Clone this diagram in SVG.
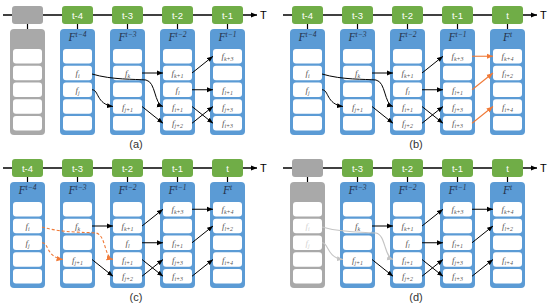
<svg xmlns="http://www.w3.org/2000/svg" width="550" height="306" viewBox="0 0 550 306">
<style>
.tl{stroke:#000;stroke-width:1.3}
.tab{fill:#70AD47}
.tabg{fill:#A6A6A6}
.pnl{fill:#5B9BD5}
.pnlg{fill:#A9A9A9}
.cell{fill:#fff}
.stem{stroke:#000;stroke-width:1.2}
.tt{font-family:"Liberation Sans",Arial,sans-serif;font-size:9.5px;fill:#fff;text-anchor:middle}
.tT{font-family:"Liberation Sans",Arial,sans-serif;font-size:11px;fill:#000}
.hdr{font-family:"Liberation Serif","Times New Roman",serif;font-style:italic;font-size:11.5px;fill:#25324a;text-anchor:middle}
.sup{font-size:7.5px}
.lbl{font-family:"Liberation Serif","Times New Roman",serif;font-style:italic;font-size:9px;fill:#555;text-anchor:middle}
.sub{font-size:6px}
.lg{fill:#d2d2d2}
.ar{fill:none;stroke:#000;stroke-width:1;marker-end:url(#ah)}
.ao{fill:none;stroke:#F07A38;stroke-width:1.1;marker-end:url(#ao)}
.ad{stroke-dasharray:3 2}
.ag{fill:none;stroke:#C4C4C4;stroke-width:1.1;marker-end:url(#ag)}
.cap{font-family:"Liberation Sans",Arial,sans-serif;font-size:11px;fill:#333;text-anchor:middle}
</style>
<defs>
<marker id="ah" viewBox="0 0 10 10" refX="10" refY="5" markerWidth="6" markerHeight="6" markerUnits="userSpaceOnUse" orient="auto"><path d="M0,1 L10,5 L0,9 z" fill="#000"/></marker>
<marker id="ao" viewBox="0 0 10 10" refX="10" refY="5" markerWidth="6.5" markerHeight="6.5" markerUnits="userSpaceOnUse" orient="auto"><path d="M0,1 L10,5 L0,9 z" fill="#F07A38"/></marker>
<marker id="ag" viewBox="0 0 10 10" refX="10" refY="5" markerWidth="6" markerHeight="6" markerUnits="userSpaceOnUse" orient="auto"><path d="M0,1 L10,5 L0,9 z" fill="#C4C4C4"/></marker>
<marker id="tla" viewBox="0 0 10 10" refX="10" refY="5" markerWidth="6" markerHeight="6" markerUnits="userSpaceOnUse" orient="auto"><path d="M0,1 L10,5 L0,9 z" fill="#000"/></marker>
<g id="cells">
<rect class="cell" x="0" y="49" width="29" height="14.5" rx="3"/>
<rect class="cell" x="0" y="65.75" width="29" height="14.5" rx="3"/>
<rect class="cell" x="0" y="82.5" width="29" height="14.5" rx="3"/>
<rect class="cell" x="0" y="99.25" width="29" height="14.5" rx="3"/>
<rect class="cell" x="0" y="116" width="29" height="14.5" rx="3"/>
</g>
</defs>
<rect width="550" height="306" fill="#fff"/>

<!-- Panel (a) -->
<g id="panel-a">
<line class="tl" x1="3" y1="15" x2="257" y2="15" marker-end="url(#tla)"/>
<text class="tT" x="260" y="19">T</text>
<g id="a-blank"><rect class="tabg" x="12" y="6" width="31" height="18" rx="3"/><line class="stem" x1="27.5" y1="24" x2="27.5" y2="29"/><rect class="pnlg" x="10" y="29" width="35" height="106" rx="4"/><use href="#cells" x="13"/></g>
<g id="a-t4"><rect class="tab" x="62" y="6" width="31" height="18" rx="3"/><text class="tt" x="77.5" y="18.5">t-4</text><line class="stem" x1="77.5" y1="24" x2="77.5" y2="29"/><rect class="pnl" x="60" y="29" width="35" height="106" rx="4"/><use href="#cells" x="63"/>
<text class="hdr" x="77.5" y="41">F<tspan class="sup" dy="-4">t−4</tspan></text>
<text class="lbl" x="77.5" y="76">f<tspan class="sub" dy="2">i</tspan></text>
<text class="lbl" x="77.5" y="92.75">f<tspan class="sub" dy="2">j</tspan></text></g>
<g id="a-t3"><rect class="tab" x="112" y="6" width="31" height="18" rx="3"/><text class="tt" x="127.5" y="18.5">t-3</text><line class="stem" x1="127.5" y1="24" x2="127.5" y2="29"/><rect class="pnl" x="110" y="29" width="35" height="106" rx="4"/><use href="#cells" x="113"/>
<text class="hdr" x="127.5" y="41">F<tspan class="sup" dy="-4">t−3</tspan></text>
<text class="lbl" x="127.5" y="76">f<tspan class="sub" dy="2">k</tspan></text>
<text class="lbl" x="127.5" y="109.5">f<tspan class="sub" dy="2">j+1</tspan></text></g>
<g id="a-t2"><rect class="tab" x="162" y="6" width="31" height="18" rx="3"/><text class="tt" x="177.5" y="18.5">t-2</text><line class="stem" x1="177.5" y1="24" x2="177.5" y2="29"/><rect class="pnl" x="160" y="29" width="35" height="106" rx="4"/><use href="#cells" x="163"/>
<text class="hdr" x="177.5" y="41">F<tspan class="sup" dy="-4">t−2</tspan></text>
<text class="lbl" x="177.5" y="76">f<tspan class="sub" dy="2">k+1</tspan></text>
<text class="lbl" x="177.5" y="92.75">f<tspan class="sub" dy="2">l</tspan></text>
<text class="lbl" x="177.5" y="109.5">f<tspan class="sub" dy="2">i+1</tspan></text>
<text class="lbl" x="177.5" y="126.25">f<tspan class="sub" dy="2">j+2</tspan></text></g>
<g id="a-t1"><rect class="tab" x="212" y="6" width="31" height="18" rx="3"/><text class="tt" x="227.5" y="18.5">t-1</text><line class="stem" x1="227.5" y1="24" x2="227.5" y2="29"/><rect class="pnl" x="210" y="29" width="35" height="106" rx="4"/><use href="#cells" x="213"/>
<text class="hdr" x="227.5" y="41">F<tspan class="sup" dy="-4">t−1</tspan></text>
<text class="lbl" x="227.5" y="59.25">f<tspan class="sub" dy="2">k+3</tspan></text>
<text class="lbl" x="227.5" y="92.75">f<tspan class="sub" dy="2">l+1</tspan></text>
<text class="lbl" x="227.5" y="109.5">f<tspan class="sub" dy="2">j+3</tspan></text>
<text class="lbl" x="227.5" y="126.25">f<tspan class="sub" dy="2">i+3</tspan></text></g>
<g id="a-connectors">
<path class="ar" d="M92,74 C112,80 135,79 146,80 C156,82 154,104 163,106.5"/>
<path class="ar" d="M92,89.75 C99,89.75 96,104 113,106.5"/>
<path class="ar" d="M142,73 L163,73"/>
<path class="ar" d="M142,106.5 L163,123.25"/>
<path class="ar" d="M192,73 L213,56.25"/>
<path class="ar" d="M192,89.75 L213,89.75"/>
<path class="ar" d="M192,106.5 L213,123.25"/>
<path class="ar" d="M192,123.25 L213,106.5"/>
</g>
<text class="cap" x="136" y="148">(a)</text>
</g>

<!-- Panel (b) -->
<g id="panel-b" transform="translate(280,0)">
<line class="tl" x1="3" y1="15" x2="257" y2="15" marker-end="url(#tla)"/>
<text class="tT" x="260" y="19">T</text>
<g id="b-t4"><rect class="tab" x="12" y="6" width="31" height="18" rx="3"/><text class="tt" x="27.5" y="18.5">t-4</text><line class="stem" x1="27.5" y1="24" x2="27.5" y2="29"/><rect class="pnl" x="10" y="29" width="35" height="106" rx="4"/><use href="#cells" x="13"/>
<text class="hdr" x="27.5" y="41">F<tspan class="sup" dy="-4">t−4</tspan></text>
<text class="lbl" x="27.5" y="76">f<tspan class="sub" dy="2">i</tspan></text>
<text class="lbl" x="27.5" y="92.75">f<tspan class="sub" dy="2">j</tspan></text></g>
<g id="b-t3"><rect class="tab" x="62" y="6" width="31" height="18" rx="3"/><text class="tt" x="77.5" y="18.5">t-3</text><line class="stem" x1="77.5" y1="24" x2="77.5" y2="29"/><rect class="pnl" x="60" y="29" width="35" height="106" rx="4"/><use href="#cells" x="63"/>
<text class="hdr" x="77.5" y="41">F<tspan class="sup" dy="-4">t−3</tspan></text>
<text class="lbl" x="77.5" y="76">f<tspan class="sub" dy="2">k</tspan></text>
<text class="lbl" x="77.5" y="109.5">f<tspan class="sub" dy="2">j+1</tspan></text></g>
<g id="b-t2"><rect class="tab" x="112" y="6" width="31" height="18" rx="3"/><text class="tt" x="127.5" y="18.5">t-2</text><line class="stem" x1="127.5" y1="24" x2="127.5" y2="29"/><rect class="pnl" x="110" y="29" width="35" height="106" rx="4"/><use href="#cells" x="113"/>
<text class="hdr" x="127.5" y="41">F<tspan class="sup" dy="-4">t−2</tspan></text>
<text class="lbl" x="127.5" y="76">f<tspan class="sub" dy="2">k+1</tspan></text>
<text class="lbl" x="127.5" y="92.75">f<tspan class="sub" dy="2">l</tspan></text>
<text class="lbl" x="127.5" y="109.5">f<tspan class="sub" dy="2">i+1</tspan></text>
<text class="lbl" x="127.5" y="126.25">f<tspan class="sub" dy="2">j+2</tspan></text></g>
<g id="b-t1"><rect class="tab" x="162" y="6" width="31" height="18" rx="3"/><text class="tt" x="177.5" y="18.5">t-1</text><line class="stem" x1="177.5" y1="24" x2="177.5" y2="29"/><rect class="pnl" x="160" y="29" width="35" height="106" rx="4"/><use href="#cells" x="163"/>
<text class="hdr" x="177.5" y="41">F<tspan class="sup" dy="-4">t−1</tspan></text>
<text class="lbl" x="177.5" y="59.25">f<tspan class="sub" dy="2">k+3</tspan></text>
<text class="lbl" x="177.5" y="92.75">f<tspan class="sub" dy="2">l+1</tspan></text>
<text class="lbl" x="177.5" y="109.5">f<tspan class="sub" dy="2">j+3</tspan></text>
<text class="lbl" x="177.5" y="126.25">f<tspan class="sub" dy="2">i+3</tspan></text></g>
<g id="b-t"><rect class="tab" x="212" y="6" width="31" height="18" rx="3"/><text class="tt" x="227.5" y="18.5">t</text><line class="stem" x1="227.5" y1="24" x2="227.5" y2="29"/><rect class="pnl" x="210" y="29" width="35" height="106" rx="4"/><use href="#cells" x="213"/>
<text class="hdr" x="227.5" y="41">F<tspan class="sup" dy="-4">t</tspan></text>
<text class="lbl" x="227.5" y="59.25">f<tspan class="sub" dy="2">k+4</tspan></text>
<text class="lbl" x="227.5" y="76">f<tspan class="sub" dy="2">l+2</tspan></text>
<text class="lbl" x="227.5" y="109.5">f<tspan class="sub" dy="2">i+4</tspan></text></g>
<g id="b-connectors">
<path class="ar" d="M42,74 C62,80 85,79 96,80 C106,82 104,104 113,106.5"/>
<path class="ar" d="M42,89.75 C49,89.75 46,104 63,106.5"/>
<path class="ar" d="M92,73 L113,73"/>
<path class="ar" d="M92,106.5 L113,123.25"/>
<path class="ar" d="M142,73 L163,56.25"/>
<path class="ar" d="M142,89.75 L163,89.75"/>
<path class="ar" d="M142,106.5 L163,123.25"/>
<path class="ar" d="M142,123.25 L163,106.5"/>
<path class="ao" d="M192,56.25 L213,56.25"/>
<path class="ao" d="M192,89.75 L213,73"/>
<path class="ao" d="M192,123.25 L213,106.5"/>
</g>
<text class="cap" x="136" y="148">(b)</text>
</g>

<!-- Panel (c) -->
<g id="panel-c" transform="translate(0,153)">
<line class="tl" x1="3" y1="15" x2="257" y2="15" marker-end="url(#tla)"/>
<text class="tT" x="260" y="19">T</text>
<g id="c-t4"><rect class="tab" x="12" y="6" width="31" height="18" rx="3"/><text class="tt" x="27.5" y="18.5">t-4</text><line class="stem" x1="27.5" y1="24" x2="27.5" y2="29"/><rect class="pnl" x="10" y="29" width="35" height="106" rx="4"/><use href="#cells" x="13"/>
<text class="hdr" x="27.5" y="41">F<tspan class="sup" dy="-4">t−4</tspan></text>
<text class="lbl" x="27.5" y="76">f<tspan class="sub" dy="2">i</tspan></text>
<text class="lbl" x="27.5" y="92.75">f<tspan class="sub" dy="2">j</tspan></text></g>
<g id="c-t3"><rect class="tab" x="62" y="6" width="31" height="18" rx="3"/><text class="tt" x="77.5" y="18.5">t-3</text><line class="stem" x1="77.5" y1="24" x2="77.5" y2="29"/><rect class="pnl" x="60" y="29" width="35" height="106" rx="4"/><use href="#cells" x="63"/>
<text class="hdr" x="77.5" y="41">F<tspan class="sup" dy="-4">t−3</tspan></text>
<text class="lbl" x="77.5" y="76">f<tspan class="sub" dy="2">k</tspan></text>
<text class="lbl" x="77.5" y="109.5">f<tspan class="sub" dy="2">j+1</tspan></text></g>
<g id="c-t2"><rect class="tab" x="112" y="6" width="31" height="18" rx="3"/><text class="tt" x="127.5" y="18.5">t-2</text><line class="stem" x1="127.5" y1="24" x2="127.5" y2="29"/><rect class="pnl" x="110" y="29" width="35" height="106" rx="4"/><use href="#cells" x="113"/>
<text class="hdr" x="127.5" y="41">F<tspan class="sup" dy="-4">t−2</tspan></text>
<text class="lbl" x="127.5" y="76">f<tspan class="sub" dy="2">k+1</tspan></text>
<text class="lbl" x="127.5" y="92.75">f<tspan class="sub" dy="2">l</tspan></text>
<text class="lbl" x="127.5" y="109.5">f<tspan class="sub" dy="2">i+1</tspan></text>
<text class="lbl" x="127.5" y="126.25">f<tspan class="sub" dy="2">j+2</tspan></text></g>
<g id="c-t1"><rect class="tab" x="162" y="6" width="31" height="18" rx="3"/><text class="tt" x="177.5" y="18.5">t-1</text><line class="stem" x1="177.5" y1="24" x2="177.5" y2="29"/><rect class="pnl" x="160" y="29" width="35" height="106" rx="4"/><use href="#cells" x="163"/>
<text class="hdr" x="177.5" y="41">F<tspan class="sup" dy="-4">t−1</tspan></text>
<text class="lbl" x="177.5" y="59.25">f<tspan class="sub" dy="2">k+3</tspan></text>
<text class="lbl" x="177.5" y="92.75">f<tspan class="sub" dy="2">l+1</tspan></text>
<text class="lbl" x="177.5" y="109.5">f<tspan class="sub" dy="2">j+3</tspan></text>
<text class="lbl" x="177.5" y="126.25">f<tspan class="sub" dy="2">i+3</tspan></text></g>
<g id="c-t"><rect class="tab" x="212" y="6" width="31" height="18" rx="3"/><text class="tt" x="227.5" y="18.5">t</text><line class="stem" x1="227.5" y1="24" x2="227.5" y2="29"/><rect class="pnl" x="210" y="29" width="35" height="106" rx="4"/><use href="#cells" x="213"/>
<text class="hdr" x="227.5" y="41">F<tspan class="sup" dy="-4">t</tspan></text>
<text class="lbl" x="227.5" y="59.25">f<tspan class="sub" dy="2">k+4</tspan></text>
<text class="lbl" x="227.5" y="76">f<tspan class="sub" dy="2">l+2</tspan></text>
<text class="lbl" x="227.5" y="109.5">f<tspan class="sub" dy="2">i+4</tspan></text></g>
<g id="c-connectors">
<path class="ao ad" d="M42,74 C62,80 85,79 96,80 C106,82 104,104 113,106.5"/>
<path class="ao ad" d="M42,89.75 C49,89.75 46,104 63,106.5"/>
<path class="ar" d="M92,73 L113,73"/>
<path class="ar" d="M92,106.5 L113,123.25"/>
<path class="ar" d="M142,73 L163,56.25"/>
<path class="ar" d="M142,89.75 L163,89.75"/>
<path class="ar" d="M142,106.5 L163,123.25"/>
<path class="ar" d="M142,123.25 L163,106.5"/>
<path class="ar" d="M192,56.25 L213,56.25"/>
<path class="ar" d="M192,89.75 L213,73"/>
<path class="ar" d="M192,123.25 L213,106.5"/>
</g>
<text class="cap" x="136" y="148">(c)</text>
</g>

<!-- Panel (d) -->
<g id="panel-d" transform="translate(280,153)">
<line class="tl" x1="3" y1="15" x2="257" y2="15" marker-end="url(#tla)"/>
<text class="tT" x="260" y="19">T</text>
<g id="d-blank"><rect class="tabg" x="12" y="6" width="31" height="18" rx="3"/><line class="stem" x1="27.5" y1="24" x2="27.5" y2="29"/><rect class="pnlg" x="10" y="29" width="35" height="106" rx="4"/><use href="#cells" x="13"/>
<text class="lbl lg" x="27.5" y="76">f<tspan class="sub" dy="2">i</tspan></text>
<text class="lbl lg" x="27.5" y="92.75">f<tspan class="sub" dy="2">j</tspan></text></g>
<g id="d-t3"><rect class="tab" x="62" y="6" width="31" height="18" rx="3"/><text class="tt" x="77.5" y="18.5">t-3</text><line class="stem" x1="77.5" y1="24" x2="77.5" y2="29"/><rect class="pnl" x="60" y="29" width="35" height="106" rx="4"/><use href="#cells" x="63"/>
<text class="hdr" x="77.5" y="41">F<tspan class="sup" dy="-4">t−3</tspan></text>
<text class="lbl" x="77.5" y="76">f<tspan class="sub" dy="2">k</tspan></text>
<text class="lbl" x="77.5" y="109.5">f<tspan class="sub" dy="2">j+1</tspan></text></g>
<g id="d-t2"><rect class="tab" x="112" y="6" width="31" height="18" rx="3"/><text class="tt" x="127.5" y="18.5">t-2</text><line class="stem" x1="127.5" y1="24" x2="127.5" y2="29"/><rect class="pnl" x="110" y="29" width="35" height="106" rx="4"/><use href="#cells" x="113"/>
<text class="hdr" x="127.5" y="41">F<tspan class="sup" dy="-4">t−2</tspan></text>
<text class="lbl" x="127.5" y="76">f<tspan class="sub" dy="2">k+1</tspan></text>
<text class="lbl" x="127.5" y="92.75">f<tspan class="sub" dy="2">l</tspan></text>
<text class="lbl" x="127.5" y="109.5">f<tspan class="sub" dy="2">i+1</tspan></text>
<text class="lbl" x="127.5" y="126.25">f<tspan class="sub" dy="2">j+2</tspan></text></g>
<g id="d-t1"><rect class="tab" x="162" y="6" width="31" height="18" rx="3"/><text class="tt" x="177.5" y="18.5">t-1</text><line class="stem" x1="177.5" y1="24" x2="177.5" y2="29"/><rect class="pnl" x="160" y="29" width="35" height="106" rx="4"/><use href="#cells" x="163"/>
<text class="hdr" x="177.5" y="41">F<tspan class="sup" dy="-4">t−1</tspan></text>
<text class="lbl" x="177.5" y="59.25">f<tspan class="sub" dy="2">k+3</tspan></text>
<text class="lbl" x="177.5" y="92.75">f<tspan class="sub" dy="2">l+1</tspan></text>
<text class="lbl" x="177.5" y="109.5">f<tspan class="sub" dy="2">j+3</tspan></text>
<text class="lbl" x="177.5" y="126.25">f<tspan class="sub" dy="2">i+3</tspan></text></g>
<g id="d-t"><rect class="tab" x="212" y="6" width="31" height="18" rx="3"/><text class="tt" x="227.5" y="18.5">t</text><line class="stem" x1="227.5" y1="24" x2="227.5" y2="29"/><rect class="pnl" x="210" y="29" width="35" height="106" rx="4"/><use href="#cells" x="213"/>
<text class="hdr" x="227.5" y="41">F<tspan class="sup" dy="-4">t</tspan></text>
<text class="lbl" x="227.5" y="59.25">f<tspan class="sub" dy="2">k+4</tspan></text>
<text class="lbl" x="227.5" y="76">f<tspan class="sub" dy="2">l+2</tspan></text>
<text class="lbl" x="227.5" y="109.5">f<tspan class="sub" dy="2">i+4</tspan></text></g>
<g id="d-connectors">
<path class="ag" d="M42,74 C62,80 85,79 96,80 C106,82 104,104 113,106.5"/>
<path class="ag" d="M42,89.75 C49,89.75 46,104 63,106.5"/>
<path class="ar" d="M92,73 L113,73"/>
<path class="ar" d="M92,106.5 L113,123.25"/>
<path class="ar" d="M142,73 L163,56.25"/>
<path class="ar" d="M142,89.75 L163,89.75"/>
<path class="ar" d="M142,106.5 L163,123.25"/>
<path class="ar" d="M142,123.25 L163,106.5"/>
<path class="ar" d="M192,56.25 L213,56.25"/>
<path class="ar" d="M192,89.75 L213,73"/>
<path class="ar" d="M192,123.25 L213,106.5"/>
</g>
<text class="cap" x="136" y="148">(d)</text>
</g>
</svg>
